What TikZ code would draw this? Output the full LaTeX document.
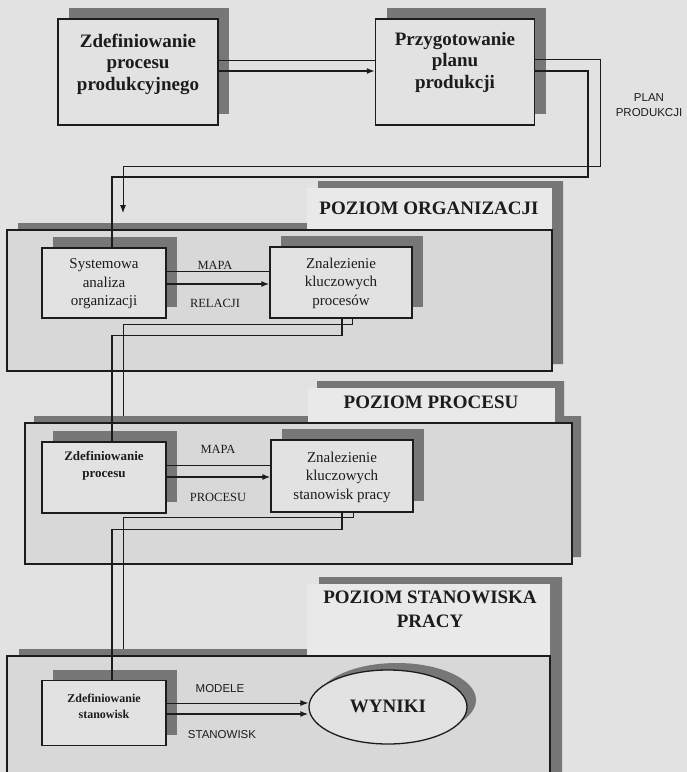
\documentclass[tikz,border=0pt]{standalone}
\usepackage{fontspec}
\setmainfont{Liberation Serif}
\newfontfamily\labelsans{Liberation Sans}
\usetikzlibrary{arrows.meta,shapes.geometric,shadows}

\definecolor{pagegrey}{HTML}{E2E2E2}
\definecolor{levelgrey}{HTML}{D8D8D8}
\definecolor{tabgrey}{HTML}{E9E9E9}
\definecolor{shadegrey}{HTML}{777777}
\definecolor{ink}{HTML}{1C1C1C}

\tikzset{
  boxshadow/.style={general shadow={fill=shadegrey, shadow xshift=11pt, shadow yshift=11pt}},
  ovalshadow/.style={general shadow={fill=shadegrey, shadow xshift=9pt, shadow yshift=7pt}},
  mainbox/.style={rectangle, draw=ink, line width=1.3pt, fill=pagegrey, inner sep=0pt, boxshadow},
  subbox/.style={rectangle, draw=ink, line width=1.1pt, fill=pagegrey, inner sep=0pt, boxshadow},
  levelbox/.style={rectangle, draw=ink, line width=1.2pt, fill=levelgrey, inner sep=0pt},
  bigtext/.style={align=center, font=\bfseries\fontsize{19}{21.5}\selectfont, text=ink},
  midtext/.style={align=center, font=\fontsize{15}{18.5}\selectfont, text=ink},
  smallbold/.style={align=center, font=\bfseries\fontsize{13}{17}\selectfont, text=ink},
  leveltitle/.style={align=center, font=\bfseries\fontsize{19}{24}\selectfont, text=ink},
  flowlabel/.style={font=\fontsize{12.5}{14}\selectfont, text=ink},
  sanslabel/.style={align=center, font=\labelsans\fontsize{11.5}{15}\selectfont, text=ink},
  thinflow/.style={draw=ink, line width=0.9pt},
  thickflow/.style={draw=ink, line width=1.6pt},
  tip/.style={-{Latex[length=8pt,width=6pt]}},
}

\begin{document}
\begin{tikzpicture}[x=1pt,y=-1pt]
\useasboundingbox (0,0) rectangle (687,772);
\fill[pagegrey] (0,0) rectangle (687,772);

% ---------- level frames: shadow, title tab, frame ----------
% organisation level
\fill[shadegrey, shift={(11,-7)}] (7,230) -- (307,230) -- (307,188) -- (552,188) -- (552,371) -- (7,371) -- cycle;
\fill[tabgrey] (307,188) rectangle (552,230);
\node[levelbox, minimum width=545pt, minimum height=141pt] (orgFrame) at (279.5,300.5) {};
\node[leveltitle] (orgTitle) at (429,208) {POZIOM ORGANIZACJI};

% process level
\fill[shadegrey, shift={(9,-7)}] (25,423) -- (308,423) -- (308,388) -- (555,388) -- (555,423) -- (572,423) -- (572,564) -- (25,564) -- cycle;
\fill[tabgrey] (308,388) rectangle (555,423);
\node[levelbox, minimum width=547pt, minimum height=141pt] (procFrame) at (298.5,493.5) {};
\node[leveltitle] (procTitle) at (431,402) {POZIOM PROCESU};

% workstation level
\fill[shadegrey, shift={(12,-7)}] (7,656) -- (307,656) -- (307,584) -- (550,584) -- (550,800) -- (7,800) -- cycle;
\fill[tabgrey] (307,584) rectangle (550,656);
\node[levelbox, minimum width=543pt, minimum height=144pt] (posFrame) at (278.5,728) {};
\node[leveltitle] (posTitle) at (430,609) {POZIOM STANOWISKA\\PRACY};

% ---------- top boxes ----------
\node[mainbox, minimum width=160pt, minimum height=106pt] (defProd) at (138,72) {};
\node[bigtext] (defProdText) at (138,64) {Zdefiniowanie\\procesu\\produkcyjnego};
\node[mainbox, minimum width=159pt, minimum height=106pt] (planProd) at (455,72) {};
\node[bigtext] (planProdText) at (455,62) {Przygotowanie\\planu\\produkcji};

% ---------- organisation level boxes ----------
\node[subbox, minimum width=124pt, minimum height=70pt] (sysAn) at (104,283) {};
\node[midtext] (sysAnText) at (104,284) {Systemowa\\analiza\\organizacji};
\node[subbox, minimum width=142pt, minimum height=71pt] (keyProc) at (341,282.5) {};
\node[midtext] (keyProcText) at (341,283) {Znalezienie\\kluczowych\\procesów};

% ---------- process level boxes ----------
\node[subbox, minimum width=124pt, minimum height=71pt] (defProc) at (104,477.5) {};
\node[smallbold] (defProcText) at (104,466) {Zdefiniowanie\\procesu};
\node[subbox, minimum width=142pt, minimum height=72pt] (keyPos) at (342,476) {};
\node[midtext] (keyPosText) at (342,477) {Znalezienie\\kluczowych\\stanowisk pracy};

% ---------- workstation level ----------
\node[subbox, minimum width=124pt, minimum height=65pt] (defPos) at (104,713) {};
\node[smallbold, font=\bfseries\fontsize{12}{16}\selectfont] (defPosText) at (104,706) {Zdefiniowanie\\stanowisk};
\node[ellipse, draw=ink, line width=1.3pt, fill=pagegrey, minimum width=158pt, minimum height=74pt, inner sep=0pt, ovalshadow] (results) at (388,707) {};
\node[bigtext] (resultsText) at (388,706) {WYNIKI};

% ---------- connectors ----------
% production process -> production plan
\draw[thinflow] ([yshift=12pt]defProd.east) -- ([yshift=12pt]defProd.east -| planProd.west);
\draw[thickflow, tip] ([yshift=1pt]defProd.east) -- ([yshift=1pt]defProd.east -| planProd.west);

% production plan -> organisation level
\coordinate (orgIn) at (123,213);
\draw[thinflow, tip] ([yshift=13pt]planProd.east) -- ++(65,0) -- ++(0,107) -| (orgIn);
\draw[thickflow] ([yshift=1pt]planProd.east) -- ++(53,0) -- ++(0,106) -| ([xshift=8pt]sysAn.north);

% organisation level
\draw[thinflow] ([yshift=12pt]sysAn.east) -- ([yshift=12pt]sysAn.east -| keyProc.west);
\draw[thickflow, tip] ([yshift=-1pt]sysAn.east) -- ([yshift=-1pt]sysAn.east -| keyProc.west);
\node[flowlabel] (mapaOrg) at (215,265) {MAPA};
\node[flowlabel] (relOrg) at (215,303) {RELACJI};

% organisation level -> process level
\coordinate (procIn) at (123,416);
\draw[thinflow] ([xshift=11pt]keyProc.south) -- ++(0,6) -| (procIn);
\draw[thickflow] ([xshift=1pt]keyProc.south) -- ++(0,17) -| ([xshift=8pt]defProc.north);

% process level
\draw[thinflow] ([yshift=12.5pt]defProc.east) -- ([yshift=12.5pt]defProc.east -| keyPos.west);
\draw[thickflow, tip] ([yshift=0.5pt]defProc.east) -- ([yshift=0.5pt]defProc.east -| keyPos.west);
\node[flowlabel] (mapaProc) at (218,449) {MAPA};
\node[flowlabel] (procLbl) at (218,497) {PROCESU};

% process level -> workstation level
\coordinate (posIn) at (123,649);
\draw[thinflow] ([xshift=11pt]keyPos.south) -- ++(0,5) -| (posIn);
\draw[thickflow] ([xshift=0pt]keyPos.south) -- ++(0,17) -| ([xshift=8pt]defPos.north);

% workstation level
\draw[thinflow, tip] ([yshift=10pt]defPos.east) -- ([yshift=10pt]defPos.east -| results.west);
\draw[thickflow, tip] ([yshift=-1pt]defPos.east) -- ([yshift=-1pt]defPos.east -| results.west);
\node[sanslabel] (modLbl) at (220,689) {MODELE};
\node[sanslabel] (posLbl) at (222,735) {STANOWISK};

% plan label
\node[sanslabel] (planLbl) at (649,105) {PLAN\\PRODUKCJI};
\end{tikzpicture}
\end{document}
